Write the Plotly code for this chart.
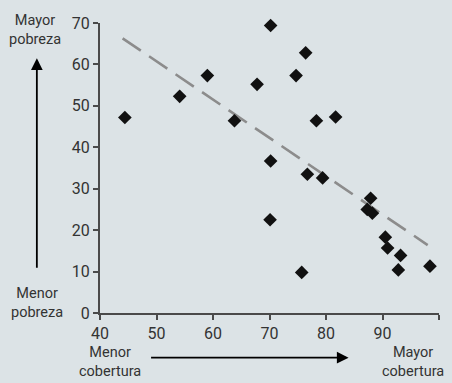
import plotly.graph_objects as go

# Data
cobertura = [44.4, 54.1, 59.0, 63.8, 67.8, 70.2, 70.2, 70.1, 74.7, 76.4, 78.3, 81.7,
             76.7, 79.4, 75.7, 87.9, 87.3, 88.2, 90.5, 90.9, 93.2, 92.8, 98.4]
pobreza = [47.2, 52.3, 57.3, 46.4, 55.2, 69.4, 36.7, 22.5, 57.3, 62.8, 46.4, 47.3,
           33.5, 32.6, 9.8, 27.7, 25.0, 24.1, 18.3, 15.7, 13.9, 10.4, 11.3]
trend_x = [44.0, 98.0]
trend_y = [66.3, 16.4]
x_ticks = [40, 50, 60, 70, 80, 90, 100]
y_ticks = [0, 10, 20, 30, 40, 50, 60, 70]

FONT = "Roboto, sans-serif"
BG = "#dce3e6"
AX = "#4a4a4a"

fig = go.Figure()
fig.add_trace(go.Scatter(x=trend_x, y=trend_y, mode="lines",
                         line=dict(color="#8c8c8c", width=2.6, dash="22px,10px"),
                         hoverinfo="skip", showlegend=False, cliponaxis=False))
fig.add_trace(go.Scatter(x=cobertura, y=pobreza, mode="markers",
                         marker=dict(symbol="diamond", size=10.5, color="#111111"),
                         showlegend=False, cliponaxis=False))

W, H = 452, 383
L, R, T, B = 100.2, 439.5, 22.7, 313.2
pw, ph = R - L, B - T
def px(x): return (x - L) / pw
def py(y): return (B - y) / ph

fig.update_layout(
    width=W, height=H,
    margin=dict(l=L, r=W - R, t=T, b=H - B, pad=0),
    paper_bgcolor=BG, plot_bgcolor=BG,
    font=dict(family=FONT, size=15, color="#333333"),
    xaxis=dict(range=[40, 100], tickvals=x_ticks, showgrid=False, zeroline=False,
               showline=True, linecolor=AX, linewidth=2, ticks="outside",
               ticklen=5, tickcolor=AX, tickwidth=1.5,
               tickfont=dict(size=16)),
    yaxis=dict(range=[0, 70], tickvals=y_ticks, showgrid=False, zeroline=False,
               showline=True, linecolor=AX, linewidth=2, ticks="outside",
               ticklen=5, tickcolor=AX, tickwidth=1.5,
               tickfont=dict(size=16)),
)

ann_font = dict(family=FONT, size=14.5, color="#333333")
annots = [
    dict(text="Mayor<br>pobreza", x=px(35), y=py(30)),
    dict(text="Menor<br>pobreza", x=px(37), y=py(303)),
    dict(text="Menor<br>cobertura", x=px(110), y=py(362)),
    dict(text="Mayor<br>cobertura", x=px(413), y=py(362)),
]
for a in annots:
    fig.add_annotation(xref="paper", yref="paper", showarrow=False,
                       xanchor="center", yanchor="middle", font=ann_font, **a)

# arrows
fig.add_annotation(xref="paper", yref="paper", x=px(37), y=py(58), text="",
                   showarrow=True, ax=0, ay=211, arrowhead=2, arrowsize=1.3,
                   arrowwidth=1.8, arrowcolor="#000000")
fig.add_annotation(xref="paper", yref="paper", x=px(349), y=py(358), text="",
                   showarrow=True, ax=-199, ay=0, arrowhead=2, arrowsize=1.3,
                   arrowwidth=1.8, arrowcolor="#000000")

fig.write_html("out.html", config={"displayModeBar": False},
               post_script="document.body.style.margin='0';document.body.style.padding='0';")
